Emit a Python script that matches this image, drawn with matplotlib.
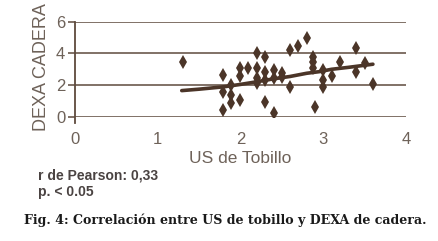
import matplotlib
matplotlib.use('Agg')
from matplotlib import pyplot as plt
from matplotlib import font_manager as fm

# valores
us_tobillo = [1.30, 1.79, 1.79, 1.79, 1.885, 1.885, 1.885, 1.99, 1.99, 1.99,
              2.09, 2.20, 2.20, 2.20, 2.20, 2.30, 2.30, 2.30, 2.30, 2.40,
              2.40, 2.40, 2.50, 2.50, 2.60, 2.60, 2.70, 2.80, 2.88, 2.88,
              2.88, 2.90, 3.00, 3.00, 3.00, 3.10, 3.20, 3.40, 3.40, 3.50,
              3.60]
dexa_cadera = [3.43, 2.65, 1.60, 0.44, 2.00, 1.39, 0.86, 3.07, 2.55, 1.07,
               3.07, 4.00, 3.07, 2.44, 2.12, 3.80, 2.86, 2.33, 0.97, 2.97,
               2.44, 0.23, 2.76, 2.50, 4.23, 1.91, 4.44, 4.96, 3.80, 3.49,
               3.07, 0.65, 2.97, 2.33, 1.91, 2.55, 3.49, 4.33, 2.86, 3.38,
               2.06]
# linea de tendencia (suavizada)
trend_x = [1.29, 1.50, 1.80, 2.00, 2.20, 2.40, 2.60, 2.80, 2.95, 3.10, 3.30, 3.45, 3.60]
trend_y = [1.66, 1.75, 1.90, 2.05, 2.22, 2.40, 2.55, 2.75, 2.85, 3.00, 3.12, 3.22, 3.32]

x_ticks = [0, 1, 2, 3, 4]
y_ticks = [0, 2, 4, 6]

installed = {f.name for f in fm.fontManager.ttflist}
sans = 'Liberation Sans Narrow' if 'Liberation Sans Narrow' in installed else 'Liberation Sans'

brown = '#4b3528'
line_col = '#5e4a3d'
text_col = '#6e6259'

fig = plt.figure(figsize=(4.39, 2.41), dpi=100)
ax = fig.add_axes([75 / 439, 1 - 117 / 241, (406 - 75) / 439, (117 - 21.6) / 241])

ax.plot(us_tobillo, dexa_cadera, 'd', color=brown, markersize=7.5, markeredgewidth=0, zorder=3)
ax.plot(trend_x, trend_y, color=brown, lw=2.6, solid_capstyle='round', zorder=2)

ax.set_xlim(0, 4)
ax.set_ylim(0, 6)
ax.set_xticks(x_ticks)
ax.set_yticks(y_ticks)
ax.yaxis.grid(True, color=line_col, lw=1.1)
ax.set_axisbelow(True)
for s in ['top', 'right', 'bottom']:
    ax.spines[s].set_visible(False)
ax.spines['left'].set_color(line_col)
ax.spines['left'].set_linewidth(1.3)
ax.spines['left'].set_bounds(-0.4, 6)
ax.tick_params(axis='y', length=5, width=1.1, color=line_col, pad=2,
               labelsize=12, labelcolor=text_col)
ax.tick_params(axis='x', length=0, pad=11,
               labelsize=12, labelcolor=text_col)
for lab in ax.get_xticklabels() + ax.get_yticklabels():
    lab.set_family(sans)

ax.set_xlabel('US de Tobillo', family=sans, fontsize=12.5, color=text_col, labelpad=3)
ax.set_ylabel('DEXA CADERA', family=sans, fontsize=13, color=text_col)
ax.yaxis.set_label_coords(-0.075, 0.524)

fig.text(38 / 439, 1 - 175 / 241, 'r de Pearson: 0,33', family=sans, fontsize=10,
         weight='bold', color='#4a4342', va='center')
fig.text(38 / 439, 1 - 192 / 241, 'p. < 0.05', family=sans, fontsize=10,
         weight='bold', color='#4a4342', va='center')
fig.text(225 / 439, 1 - 220 / 241,
         'Fig. 4: Correlación entre US de tobillo y DEXA de cadera.',
         family='DejaVu Serif', fontsize=9.1, weight='bold', color='#1a1a1a',
         ha='center', va='center')

fig.savefig('out.png', dpi=100)
